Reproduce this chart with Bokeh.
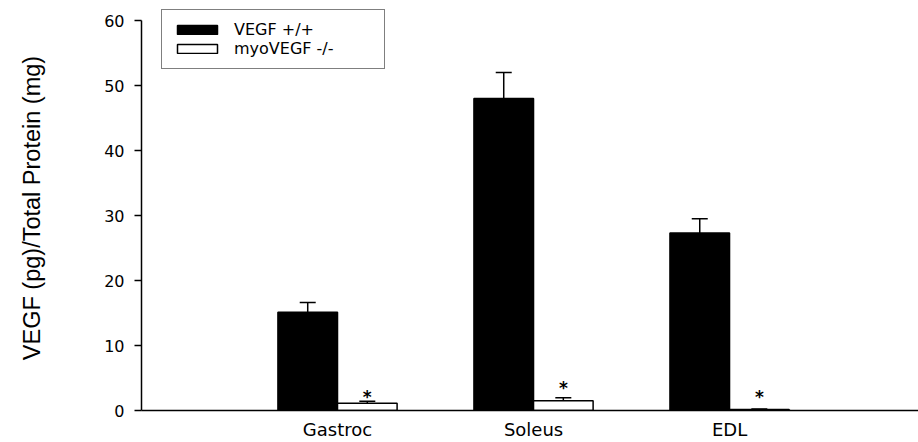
from bokeh.plotting import figure
from bokeh.models import (ColumnDataSource, Whisker, TeeHead, FixedTicker, Range1d,
                          Legend, LegendItem)
from bokeh.core.properties import value
from bokeh.embed import file_html
from bokeh.resources import INLINE

# ---- data ----
muscles = ["Gastroc", "Soleus", "EDL"]
wt_mean = [15.1, 48.0, 27.3]        # VEGF +/+
wt_err = [1.5, 4.0, 2.2]
ko_mean = [1.13, 1.5, 0.15]         # myoVEGF -/-
ko_err = [0.3, 0.45, 0.1]
star_y = [2.9, 4.2, 2.9]            # significance asterisks
y_ticks = [0, 10, 20, 30, 40, 50, 60]

pos = [1, 2, 3]
bw = 0.304
wt_x = [p - bw / 2 for p in pos]
ko_x = [p + bw / 2 for p in pos]

wt_src = ColumnDataSource(dict(x=wt_x, top=wt_mean,
                               upper=[m + e for m, e in zip(wt_mean, wt_err)]))
ko_src = ColumnDataSource(dict(x=ko_x, top=ko_mean,
                               upper=[m + e for m, e in zip(ko_mean, ko_err)]))
star_src = ColumnDataSource(dict(x=ko_x, y=star_y, t=["*"] * 3))

p = figure(width=918, height=442, output_backend="svg", toolbar_location=None,
           x_range=Range1d(0, 3.964), y_range=Range1d(0, 62.31),
           min_border_left=141, min_border_right=0, min_border_top=5,
           min_border_bottom=32)
p.outline_line_color = None
p.xgrid.visible = False
p.ygrid.visible = False
p.background_fill_color = "white"
p.border_fill_color = "white"

wt = p.vbar(x="x", top="top", bottom=0, width=bw, source=wt_src,
            fill_color="black", line_color="black", line_width=1.5)
ko = p.vbar(x="x", top="top", bottom=0, width=bw, source=ko_src,
            fill_color="white", line_color="black", line_width=1.5)

for src in (wt_src, ko_src):
    p.add_layout(Whisker(source=src, base="x", lower="top", upper="upper",
                         dimension="height", line_color="black", line_width=1.5,
                         lower_head=None,
                         upper_head=TeeHead(size=16, line_color="black", line_width=1.5)))

p.text(x="x", y="y", text="t", source=star_src, text_align="center",
       text_baseline="middle", text_font=value("DejaVu Sans"),
       text_font_style="bold", text_font_size="17px", y_offset=5,
       text_color="black")

# axes
xa = p.xaxis[0]
xa.ticker = FixedTicker(ticks=pos)
xa.major_label_overrides = {pp: m for pp, m in zip(pos, muscles)}
xa.major_tick_line_color = None
xa.major_tick_in = 0
xa.major_tick_out = 0
xa.minor_tick_line_color = None
xa.minor_tick_in = 0
xa.minor_tick_out = 0
xa.axis_line_width = 1.5
xa.axis_line_color = "black"
xa.major_label_text_font = "DejaVu Sans"
xa.major_label_text_font_size = "18px"
xa.major_label_text_color = "black"
xa.major_label_standoff = 8

ya = p.yaxis[0]
ya.ticker = FixedTicker(ticks=y_ticks)
ya.bounds = (0, 60)
ya.minor_tick_line_color = None
ya.major_tick_in = 0
ya.major_tick_out = 7
ya.major_tick_line_width = 1.5
ya.axis_line_width = 1.5
ya.axis_line_color = "black"
ya.major_label_text_font = "DejaVu Sans"
ya.major_label_text_font_size = "16px"
ya.major_label_text_color = "black"
ya.major_label_standoff = 10
ya.axis_label = "VEGF (pg)/Total Protein (mg)"
ya.axis_label_text_font = "Liberation Sans"
ya.axis_label_text_font_size = "23.5px"
ya.axis_label_text_font_style = "normal"
ya.axis_label_text_color = "black"
ya.axis_label_standoff = 56

legend = Legend(items=[LegendItem(label="VEGF +/+", renderers=[wt]),
                       LegendItem(label="myoVEGF -/-", renderers=[ko])],
                location=(20, 341), glyph_width=50, glyph_height=11,
                label_standoff=12, label_height=19, label_width=140,
                spacing=0, padding=10, margin=0,
                border_line_color="black", border_line_width=1.5,
                background_fill_color="white", background_fill_alpha=1,
                label_text_font="DejaVu Sans", label_text_font_size="16px",
                label_text_color="black")
p.add_layout(legend)

open("out.html", "w").write(file_html(p, INLINE))
